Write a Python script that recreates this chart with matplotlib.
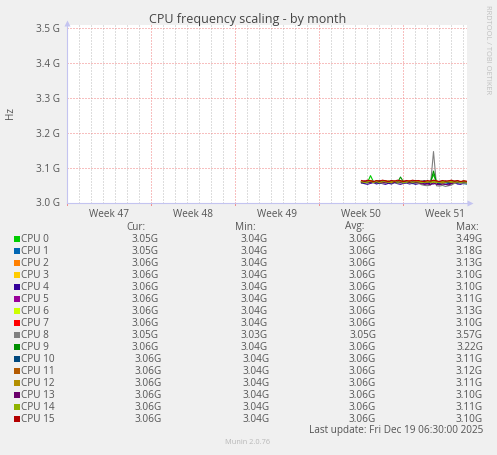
import numpy as np
import matplotlib
matplotlib.use("Agg")
import matplotlib.pyplot as plt
from matplotlib.patches import Rectangle

plt.rcParams['font.family'] = ['Open Sans', 'DejaVu Sans']

# --- data -------------------------------------------------------------
end_time = np.datetime64('2025-12-19T06:30')
start_time = end_time - np.timedelta64(400 * 7200, 's')
times = np.datetime64('2025-12-10T12:30') + np.arange(36) * np.timedelta64(6, 'h')

cpu_names = ['CPU %d' % i for i in range(16)]
cpu_colors = ['#00cc00', '#0066b3', '#ff8000', '#ffcc00', '#330099', '#990099',
              '#ccff00', '#ff0000', '#808080', '#008f00', '#00487d', '#b35a00',
              '#b38f00', '#6b006b', '#8fb300', '#b30000']

# GHz, 6-hour samples
cpu0 = [3.058, 3.061, 3.057, 3.077, 3.059, 3.056, 3.060, 3.062, 3.058, 3.055, 3.059, 3.061,
        3.057, 3.060, 3.058, 3.062, 3.056, 3.059, 3.061, 3.057, 3.060, 3.058, 3.055, 3.059,
        3.080, 3.057, 3.054, 3.058, 3.061, 3.056, 3.059, 3.057, 3.060, 3.058, 3.056, 3.054]
cpu1 = [3.057, 3.055, 3.058, 3.056, 3.059, 3.057, 3.054, 3.058, 3.059, 3.056, 3.055, 3.058,
        3.057, 3.059, 3.055, 3.057, 3.058, 3.054, 3.056, 3.059, 3.057, 3.055, 3.058, 3.053,
        3.060, 3.056, 3.053, 3.055, 3.057, 3.054, 3.056, 3.058, 3.055, 3.057, 3.054, 3.053]
cpu2 = [3.060, 3.058, 3.062, 3.059, 3.057, 3.061, 3.059, 3.056, 3.060, 3.062, 3.058, 3.059,
        3.061, 3.057, 3.060, 3.058, 3.062, 3.059, 3.057, 3.060, 3.058, 3.061, 3.059, 3.057,
        3.063, 3.060, 3.058, 3.057, 3.060, 3.058, 3.061, 3.059, 3.057, 3.060, 3.058, 3.059]
cpu3 = [3.057, 3.060, 3.059, 3.062, 3.058, 3.060, 3.057, 3.061, 3.059, 3.057, 3.062, 3.058,
        3.060, 3.059, 3.061, 3.057, 3.059, 3.062, 3.058, 3.060, 3.057, 3.059, 3.061, 3.058,
        3.060, 3.056, 3.059, 3.061, 3.057, 3.060, 3.058, 3.056, 3.059, 3.061, 3.058, 3.060]
cpu4 = [3.056, 3.054, 3.052, 3.055, 3.057, 3.053, 3.056, 3.054, 3.052, 3.055, 3.053, 3.057,
        3.054, 3.052, 3.055, 3.056, 3.053, 3.055, 3.052, 3.054, 3.057, 3.053, 3.055, 3.054,
        3.053, 3.056, 3.052, 3.054, 3.052, 3.053, 3.055, 3.057, 3.053, 3.052, 3.055, 3.058]
cpu5 = [3.059, 3.062, 3.058, 3.057, 3.060, 3.059, 3.062, 3.058, 3.060, 3.057, 3.061, 3.059,
        3.058, 3.060, 3.062, 3.059, 3.057, 3.061, 3.059, 3.058, 3.060, 3.062, 3.057, 3.060,
        3.059, 3.057, 3.060, 3.058, 3.062, 3.059, 3.057, 3.060, 3.061, 3.058, 3.059, 3.058]
cpu6 = [3.058, 3.060, 3.061, 3.058, 3.059, 3.062, 3.057, 3.060, 3.058, 3.061, 3.059, 3.057,
        3.062, 3.058, 3.059, 3.060, 3.057, 3.058, 3.062, 3.060, 3.058, 3.057, 3.061, 3.059,
        3.057, 3.060, 3.058, 3.055, 3.058, 3.061, 3.057, 3.059, 3.058, 3.060, 3.057, 3.058]
cpu7 = [3.062, 3.059, 3.061, 3.063, 3.060, 3.058, 3.062, 3.060, 3.063, 3.059, 3.061, 3.062,
        3.060, 3.063, 3.059, 3.061, 3.062, 3.060, 3.063, 3.061, 3.059, 3.062, 3.060, 3.061,
        3.063, 3.059, 3.060, 3.062, 3.058, 3.061, 3.063, 3.060, 3.062, 3.059, 3.061, 3.060]
cpu8 = [3.056, 3.058, 3.055, 3.057, 3.059, 3.056, 3.058, 3.055, 3.057, 3.059, 3.056, 3.058,
        3.055, 3.057, 3.056, 3.058, 3.055, 3.057, 3.056, 3.055, 3.051, 3.049, 3.048, 3.050,
        3.146, 3.048, 3.047, 3.049, 3.046, 3.048, 3.050, 3.055, 3.057, 3.056, 3.055, 3.054]
cpu9 = [3.060, 3.058, 3.061, 3.059, 3.057, 3.060, 3.062, 3.058, 3.059, 3.061, 3.058, 3.060,
        3.057, 3.073, 3.059, 3.061, 3.058, 3.060, 3.057, 3.059, 3.061, 3.058, 3.060, 3.057,
        3.090, 3.058, 3.061, 3.059, 3.057, 3.060, 3.058, 3.061, 3.059, 3.057, 3.060, 3.058]
cpu10 = [3.057, 3.059, 3.062, 3.058, 3.060, 3.057, 3.059, 3.061, 3.058, 3.060, 3.062, 3.057,
         3.059, 3.061, 3.058, 3.060, 3.059, 3.057, 3.061, 3.058, 3.060, 3.062, 3.058, 3.059,
         3.061, 3.058, 3.056, 3.060, 3.059, 3.057, 3.060, 3.058, 3.061, 3.059, 3.057, 3.059]
cpu11 = [3.061, 3.058, 3.060, 3.062, 3.059, 3.061, 3.058, 3.060, 3.062, 3.058, 3.060, 3.059,
         3.061, 3.058, 3.062, 3.060, 3.058, 3.061, 3.059, 3.062, 3.058, 3.060, 3.059, 3.061,
         3.060, 3.062, 3.058, 3.060, 3.061, 3.059, 3.058, 3.061, 3.060, 3.058, 3.062, 3.060]
cpu12 = [3.059, 3.061, 3.057, 3.060, 3.058, 3.062, 3.060, 3.057, 3.061, 3.059, 3.057, 3.061,
         3.060, 3.058, 3.061, 3.059, 3.062, 3.058, 3.060, 3.057, 3.061, 3.059, 3.058, 3.060,
         3.059, 3.061, 3.059, 3.056, 3.060, 3.062, 3.059, 3.057, 3.060, 3.058, 3.061, 3.059]
cpu13 = [3.058, 3.060, 3.059, 3.057, 3.061, 3.058, 3.060, 3.059, 3.056, 3.059, 3.061, 3.058,
         3.060, 3.057, 3.059, 3.061, 3.058, 3.060, 3.058, 3.057, 3.054, 3.052, 3.053, 3.051,
         3.056, 3.052, 3.051, 3.053, 3.052, 3.050, 3.054, 3.058, 3.060, 3.057, 3.059, 3.058]
cpu14 = [3.060, 3.057, 3.059, 3.061, 3.058, 3.060, 3.057, 3.062, 3.059, 3.058, 3.060, 3.061,
         3.058, 3.060, 3.057, 3.059, 3.061, 3.058, 3.060, 3.059, 3.057, 3.060, 3.061, 3.058,
         3.060, 3.057, 3.059, 3.061, 3.058, 3.060, 3.059, 3.058, 3.060, 3.057, 3.059, 3.058]
cpu15 = [3.063, 3.061, 3.064, 3.062, 3.060, 3.063, 3.061, 3.064, 3.062, 3.060, 3.063, 3.061,
         3.064, 3.062, 3.060, 3.063, 3.061, 3.064, 3.062, 3.063, 3.061, 3.060, 3.063, 3.061,
         3.064, 3.062, 3.060, 3.063, 3.061, 3.062, 3.064, 3.061, 3.063, 3.060, 3.062, 3.061]
series = [cpu0, cpu1, cpu2, cpu3, cpu4, cpu5, cpu6, cpu7,
          cpu8, cpu9, cpu10, cpu11, cpu12, cpu13, cpu14, cpu15]

cur_vals = [3.05, 3.05, 3.06, 3.06, 3.06, 3.06, 3.06, 3.06,
            3.05, 3.06, 3.06, 3.06, 3.06, 3.06, 3.06, 3.06]
min_vals = [3.04, 3.04, 3.04, 3.04, 3.04, 3.04, 3.04, 3.04,
            3.03, 3.04, 3.04, 3.04, 3.04, 3.04, 3.04, 3.04]
avg_vals = [3.06, 3.06, 3.06, 3.06, 3.06, 3.06, 3.06, 3.06,
            3.05, 3.06, 3.06, 3.06, 3.06, 3.06, 3.06, 3.06]
max_vals = [3.49, 3.18, 3.13, 3.10, 3.10, 3.11, 3.13, 3.10,
            3.57, 3.22, 3.11, 3.12, 3.11, 3.10, 3.11, 3.10]

y_ticks = [3.0, 3.1, 3.2, 3.3, 3.4, 3.5]
week_labels = ['Week 47', 'Week 48', 'Week 49', 'Week 50', 'Week 51']
first_sunday = np.datetime64('2025-11-16T00:00')

# --- layout helpers ---------------------------------------------------
W, H = 497, 455
TXT = '#555555'
AXC = '#c4c4f0'
DOT = (0, (1, 2))


def px_rect(l, t, r, b):
    return [l / W, 1 - b / H, (r - l) / W, (b - t) / H]


fig = plt.figure(figsize=(W / 100, H / 100), dpi=100, facecolor='#f0f0f0')
ax = fig.add_axes(px_rect(66.5, 25, 466.5, 202.5))
ax.set_facecolor('white')

ax.set_xlim(start_time, end_time)
ax.set_ylim(3.0, 3.0 + 177.5 / 349.0)

# grid: daily grey, weekly red, 0.1G red
sundays = first_sunday + np.arange(5) * np.timedelta64(7, 'D')
days = np.arange(np.datetime64('2025-11-16'), np.datetime64('2025-12-20'), np.timedelta64(1, 'D'))
days = [d for d in days if d not in sundays]
for d in days:
    ax.axvline(d, color='#bdbdbd', lw=0.72, ls=DOT, zorder=0)
for s in sundays:
    ax.axvline(s, color='#f08080', lw=0.72, ls=DOT, zorder=1)
    ax.axvline(s, ymin=-0.013, ymax=0, color='#f09090', lw=0.72, clip_on=False)
for v in y_ticks[1:]:
    ax.axhline(v, color='#f08080', lw=0.72, ls=DOT, zorder=1)

week_centers = sundays + np.timedelta64(84, 'h')
ax.set_xticks(week_centers, labels=week_labels)
ax.tick_params(axis='x', which='both', length=0, pad=5, labelsize=7.2, labelcolor=TXT)

ax.set_yticks(y_ticks, labels=['%.1f G' % v for v in y_ticks])
ax.tick_params(axis='y', length=0, pad=5, labelsize=7.2, labelcolor=TXT)

for sp in ['top', 'right']:
    ax.spines[sp].set_visible(False)
for sp in ['left', 'bottom']:
    ax.spines[sp].set_color(AXC)
    ax.spines[sp].set_linewidth(0.8)
    ax.spines[sp].set_zorder(5)

for vals, col in zip(series, cpu_colors):
    ax.plot(times, vals, color=col, lw=0.8, zorder=3)

# --- overlay for text in pixel units ----------------------------------
ov = fig.add_axes([0, 0, 1, 1])
ov.set_xlim(0, W)
ov.set_ylim(H, 0)
ov.axis('off')

ov.plot([66.5], [23], marker='^', ms=4, color=AXC, mec='none')
ov.plot([470], [202.5], marker='>', ms=4, color=AXC, mec='none')

ov.text(248, 20, 'CPU frequency scaling - by month', ha='center', va='center',
        fontsize=9, color='#444444')
ov.text(10, 113, 'Hz', rotation=90, ha='center', va='center', fontsize=7.2, color=TXT)
ov.text(487, 5, 'RRDTOOL / TOBI OETIKER', rotation=270, ha='center', va='top',
        fontsize=5.3, color='#c0c0c0')

for x, lab in zip([126, 235, 345, 456], ['Cur:', 'Min:', 'Avg:', 'Max:']):
    ov.text(x, 227, lab, ha='left', va='center', fontsize=7.2, color=TXT)

for i, name in enumerate(cpu_names):
    y = 239 + 12 * i
    ov.add_patch(Rectangle((14, y - 3), 6, 6, color=cpu_colors[i], lw=0))
    ov.text(21, y, name, ha='left', va='center', fontsize=7.2, color=TXT)
    shift = 3 if i >= 10 else 0
    ov.text(159 + shift, y, '%.2fG' % cur_vals[i], ha='right', va='center', fontsize=7.2, color=TXT)
    ov.text(268 + shift * 0.6, y, '%.2fG' % min_vals[i], ha='right', va='center', fontsize=7.2, color=TXT)
    ov.text(376, y, '%.2fG' % avg_vals[i], ha='right', va='center', fontsize=7.2, color=TXT)
    ov.text(483, y, '%.2fG' % max_vals[i], ha='right', va='center', fontsize=7.2, color=TXT)

ov.text(483, 431, 'Last update: Fri Dec 19 06:30:00 2025', ha='right', va='center',
        fontsize=7.2, color=TXT)
ov.text(248, 442, 'Munin 2.0.76', ha='center', va='center', fontsize=5.3, color='#b8b8b8')

fig.savefig('out.png', dpi=100, facecolor=fig.get_facecolor())
